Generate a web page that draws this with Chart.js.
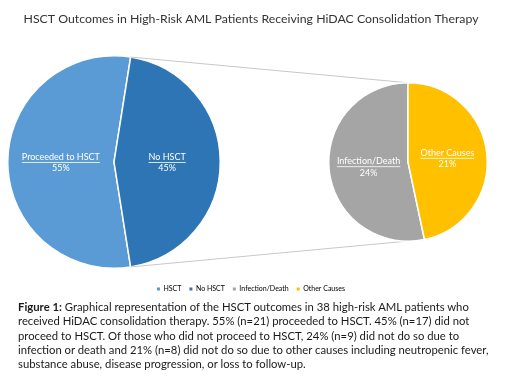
<!DOCTYPE html>
<html>
<head>
<meta charset="utf-8">
<script src="https://cdn.jsdelivr.net/npm/chart.js@4.4.0/dist/chart.umd.min.js"></script>
<style>
  body { margin: 0; background: #fff; }
  #wrap { position: relative; width: 520px; height: 385px; overflow: hidden; background: #fff; }
  #wrap canvas { position: absolute; left: 0; top: 0; }
  #caption {
    position: absolute; left: 18px; top: 300px;
    font: 11.3px Lato, sans-serif; line-height: 14.3px;
    color: #1a1a1a; white-space: nowrap;
  }
</style>
</head>
<body>
<div id="wrap">
  <canvas id="main" width="520" height="385"></canvas>
  <canvas id="detail" width="520" height="385"></canvas>
  <div id="caption"><b>Figure 1:</b> Graphical representation of the HSCT outcomes in 38 high-risk AML patients who<br>received HiDAC consolidation therapy. 55% (n=21) proceeded to HSCT. 45% (n=17) did not<br>proceed to HSCT. Of those who did not proceed to HSCT, 24% (n=9) did not do so due to<br>infection or death and 21% (n=8) did not do so due to other causes including neutropenic fever,<br>substance abuse, disease progression, or loss to follow-up.</div>
</div>
<script>
const mainLabels = ['Proceeded to HSCT', 'No HSCT'];
const mainValues = [55, 45];
const mainColors = ['#5B9BD5', '#2E75B6'];

const detailLabels = ['Infection/Death', 'Other Causes'];
const detailValues = [24, 21];
const detailColors = ['#A5A5A5', '#FFC000'];

const legendLabels = ['HSCT', 'No HSCT', 'Infection/Death', 'Other Causes'];
const legendColors = mainColors.concat(detailColors);

const titleText = 'HSCT Outcomes in High-Risk AML Patients Receiving HiDAC Consolidation Therapy';

// white underlined name + percentage in the middle of each slice
const sliceLabels = {
  id: 'sliceLabels',
  afterDatasetsDraw(chart) {
    const ctx = chart.ctx;
    const meta = chart.getDatasetMeta(0);
    const labels = chart.data.labels;
    const values = chart.data.datasets[0].data;
    ctx.save();
    ctx.fillStyle = '#fff';
    ctx.strokeStyle = '#fff';
    ctx.lineWidth = 0.8;
    ctx.font = '9px Lato, sans-serif';
    ctx.textAlign = 'center';
    ctx.textBaseline = 'middle';
    meta.data.forEach((arc, i) => {
      const p = arc.tooltipPosition();
      const w = ctx.measureText(labels[i]).width;
      ctx.fillText(labels[i], p.x, p.y - 5);
      ctx.beginPath();
      ctx.moveTo(p.x - w / 2, p.y + 0.5);
      ctx.lineTo(p.x + w / 2, p.y + 0.5);
      ctx.stroke();
      ctx.fillText(values[i] + '%', p.x, p.y + 6.5);
    });
    ctx.restore();
  }
};

// main pie sits on the left, title and legend stay full width
const bigPieArea = {
  id: 'bigPieArea',
  afterLayout(chart) {
    chart.chartArea = {left: 7, top: 55, right: 221, bottom: 269, width: 214, height: 214};
  }
};

const mainChart = new Chart(document.getElementById('main'), {
  type: 'pie',
  data: {
    labels: mainLabels,
    datasets: [{
      data: mainValues,
      backgroundColor: mainColors,
      borderColor: '#fff',
      borderWidth: 1.5
    }]
  },
  options: {
    responsive: false,
    animation: false,
    rotation: 171,
    layout: {padding: {top: 0, left: 0, right: 18, bottom: 82.5}},
    plugins: {
      title: {
        display: true,
        text: titleText,
        color: '#333333',
        font: {family: 'Lato', size: 12.3, weight: 'normal'},
        padding: {top: 12, bottom: 10}
      },
      legend: {
        position: 'bottom',
        onClick: null,
        labels: {
          color: '#595959',
          font: {family: 'Lato', size: 7},
          boxWidth: 3,
          boxHeight: 3,
          padding: 8,
          generateLabels: () => legendLabels.map((text, i) => ({
            text: text,
            fillStyle: legendColors[i],
            strokeStyle: legendColors[i],
            lineWidth: 0,
            hidden: false,
            index: i
          }))
        }
      },
      tooltip: {enabled: true}
    }
  },
  plugins: [bigPieArea, sliceLabels]
});

// grey lines from the "No HSCT" slice to the secondary pie
const connectors = {
  id: 'connectors',
  beforeDatasetsDraw(chart) {
    const from = mainChart.getDatasetMeta(0).data[1];
    const to = chart.getDatasetMeta(0).data[1];
    const edge = (arc, a) => [arc.x + Math.cos(a) * arc.outerRadius, arc.y + Math.sin(a) * arc.outerRadius];
    const ctx = chart.ctx;
    ctx.save();
    ctx.strokeStyle = '#C8C8C8';
    ctx.lineWidth = 1;
    ['startAngle', 'endAngle'].forEach((a) => {
      const p1 = edge(from, from[a]);
      const p2 = edge(to, to[a]);
      ctx.beginPath();
      ctx.moveTo(p1[0], p1[1]);
      ctx.lineTo(p2[0], p2[1]);
      ctx.stroke();
    });
    ctx.restore();
  }
};

const detailChart = new Chart(document.getElementById('detail'), {
  type: 'pie',
  data: {
    labels: detailLabels,
    datasets: [{
      data: detailValues,
      backgroundColor: detailColors,
      borderColor: '#fff',
      borderWidth: 1.5
    }]
  },
  options: {
    responsive: false,
    animation: false,
    rotation: 168,
    layout: {padding: {left: 328, right: 32, top: 82, bottom: 143}},
    plugins: {
      legend: {display: false},
      title: {display: false}
    }
  },
  plugins: [connectors, sliceLabels]
});
</script>
</body>
</html>
